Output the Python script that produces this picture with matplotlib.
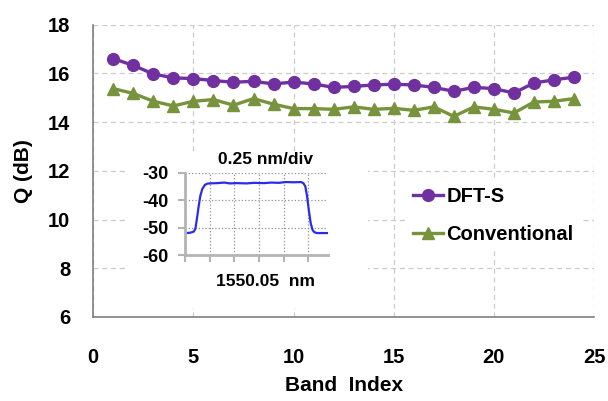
import matplotlib
matplotlib.use("Agg")
import matplotlib.pyplot as plt
from matplotlib.patches import Rectangle

plt.rcParams['font.family'] = ['Liberation Sans', 'DejaVu Sans']
plt.rcParams['font.weight'] = 'bold'
plt.rcParams['axes.unicode_minus'] = False

band = list(range(1, 25))
dft_s = [16.60, 16.32, 15.97, 15.81, 15.78, 15.70, 15.63, 15.67, 15.56, 15.64, 15.56, 15.42,
         15.46, 15.52, 15.55, 15.52, 15.42, 15.26, 15.42, 15.37, 15.19, 15.60, 15.73, 15.84]
conventional = [15.37, 15.17, 14.85, 14.66, 14.85, 14.92, 14.69, 14.96, 14.73, 14.55, 14.55, 14.52,
                14.62, 14.52, 14.56, 14.48, 14.62, 14.23, 14.62, 14.52, 14.37, 14.82, 14.85, 14.96]

# inset spectrum (x in divisions of 0.25 nm)
spec_x = [0.0, 0.2, 0.35, 0.42, 0.48, 0.55, 0.62, 0.7, 0.8, 0.9, 1.0, 1.3, 1.6, 1.8, 2.1, 2.5,
          2.8, 3.2, 3.5, 3.8, 4.1, 4.4, 4.7, 4.8, 4.88, 4.95, 5.02, 5.1, 5.18, 5.25, 5.35, 5.5, 5.8]
spec_y = [-52.0, -51.9, -51.5, -50.5, -47.0, -42.5, -38.5, -36.0, -34.5, -34.0, -33.9, -33.8, -33.6,
          -33.9, -33.8, -33.9, -33.7, -33.8, -33.6, -33.7, -33.4, -33.5, -33.4, -33.8, -35.0, -38.5,
          -43.5, -48.5, -51.0, -51.7, -52.0, -52.0, -52.0]

purple = '#7030A0'
green = '#77933C'

fig = plt.figure(figsize=(6.08, 4.01), dpi=100)
W, H = 608, 401

def fx(px):
    return px / W

def fy(py):
    return 1 - py / H

ax = fig.add_axes([fx(93.3), fy(317), fx(594) - fx(93.3), fy(24.5) - fy(317)])
ax.plot(band, dft_s, '-o', color=purple, lw=2.4, ms=8.5, label='DFT-S', zorder=3)
ax.plot(band, conventional, '-^', color=green, lw=2.4, ms=9, label='Conventional', zorder=3)
ax.set_xlim(0, 25)
ax.set_ylim(6, 18)
ax.set_xticks(range(0, 26, 5))
ax.set_yticks(range(6, 19, 2))
ax.grid(True, ls=(0, (4, 3)), color='#cccccc', lw=0.9)
ax.set_axisbelow(True)
for s in ['top', 'right']:
    ax.spines[s].set_visible(False)
for s in ['left', 'bottom']:
    ax.spines[s].set_color('#808080')
    ax.spines[s].set_linewidth(1.2)
ax.tick_params(axis='both', length=0, labelsize=14.5)
ax.tick_params(axis='x', pad=22)
ax.tick_params(axis='y', pad=16.5)
ax.set_xlabel('Band  Index', fontsize=15, fontweight='bold', labelpad=7)
ax.set_ylabel('Q (dB)', fontsize=15, fontweight='bold', labelpad=11)

# white box behind inset
box = Rectangle((fx(127), fy(308)), fx(368) - fx(127), fy(155) - fy(308),
                transform=fig.transFigure, facecolor='white', edgecolor='none', zorder=2)
ax.add_patch(box)

leg = ax.legend(loc='upper left', bbox_to_anchor=(fx(397), fy(171)), bbox_transform=fig.transFigure,
                frameon=True, fontsize=14.5, handlelength=1.5, handletextpad=0.15,
                labelspacing=0.95, borderpad=0.3)
leg.get_frame().set_facecolor('white')
leg.get_frame().set_edgecolor('none')
leg.get_frame().set_alpha(1)

# inset
ins = fig.add_axes([fx(185), fy(255), fx(328) - fx(185), fy(172.7) - fy(255)])
ins.plot(spec_x, spec_y, color='#2B2BF0', lw=1.6)
ins.set_xlim(0, 5.8)
ins.set_ylim(-60, -30)
ins.set_xticks(range(0, 6))
ins.set_yticks([-60, -50, -40, -30])
ins.set_xticklabels([])
ins.grid(True, ls=':', color='#909090', lw=0.9)
ins.set_facecolor('none')
for s in ['top', 'right']:
    ins.spines[s].set_visible(False)
for s in ['left', 'bottom']:
    ins.spines[s].set_color('#b4b4b4')
    ins.spines[s].set_linewidth(2)
ins.tick_params(axis='both', color='#b4b4b4', width=1.5, length=5, direction='out', labelsize=13)
ins.tick_params(axis='y', pad=7)
fig.text(fx(265), fy(160), '0.25 nm/div', ha='center', va='center', fontsize=12.5, fontweight='bold')
fig.text(fx(265), fy(281), '1550.05  nm', ha='center', va='center', fontsize=12.5, fontweight='bold')

fig.savefig('out.png', dpi=100)
